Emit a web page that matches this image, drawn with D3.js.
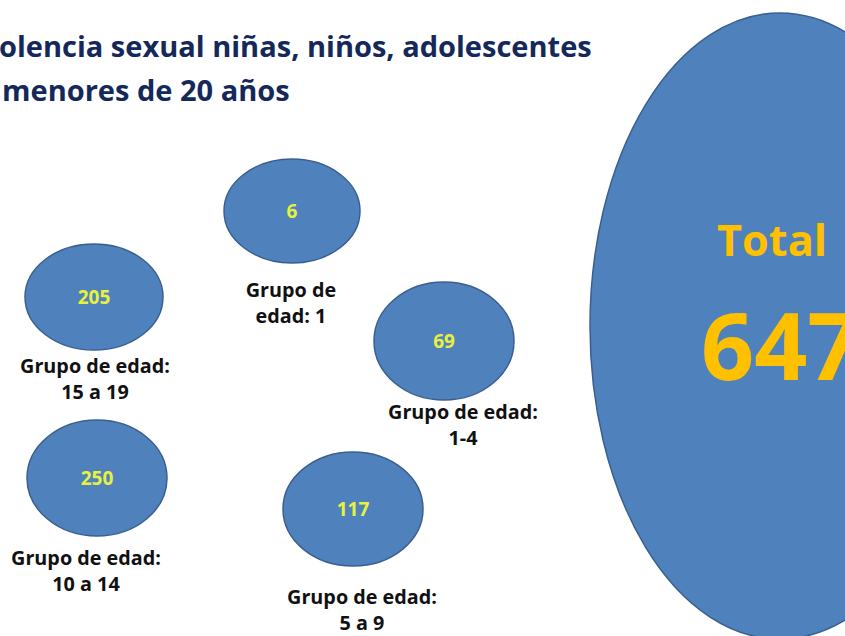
<!DOCTYPE html>
<html>
<head>
<meta charset="utf-8">
<script src="https://cdn.jsdelivr.net/npm/d3@7"></script>
<style>
  body { margin: 0; background: #fff; }
  svg { display: block; }
</style>
</head>
<body>
<script>
/*
Data
*/
var titleLines = ["olencia sexual niñas, niños, adolescentes", "menores de 20 años"];
var groupLabels = [["Grupo de", "edad: 1"], ["Grupo de edad:", "1-4"], ["Grupo de edad:", "5 a 9"],
                   ["Grupo de edad:", "10 a 14"], ["Grupo de edad:", "15 a 19"]];
var groupValues = [6, 69, 117, 250, 205];
var totalLabel = "Total";
var totalValue = 647;

/*
Layout (one entry per group, same order)
*/
var layout = [
  {cx: 292, cy: 211, rx: 68, ry: 52, lx: 291, ly: 297},
  {cx: 444, cy: 341, rx: 70, ry: 59, lx: 463, ly: 419},
  {cx: 353, cy: 509, rx: 70, ry: 57, lx: 362, ly: 604},
  {cx: 97,  cy: 478, rx: 70, ry: 58, lx: 86,  ly: 565},
  {cx: 94,  cy: 297, rx: 69, ry: 53, lx: 95,  ly: 373}
];

var width = 845,
    height = 636;

var svg = d3.select("body").append("svg")
    .attr("width", width)
    .attr("height", height);

var font = "'Open Sans', sans-serif";

// scale a text's font size so it spans the given width
function fit(sel, w) {
  var fs = +sel.attr("font-size");
  var len = sel.node().getComputedTextLength();
  var nfs = fs * w / len;
  sel.attr("font-size", nfs);
  return nfs;
}

// title
var title = svg.append("g")
  .selectAll("text")
  .data(titleLines)
  .enter().append("text")
    .attr("x", function(d, i) { return i == 0 ? -1 : 2; })
    .attr("y", function(d, i) { return 57 + i * 44; })
    .attr("font-family", font)
    .attr("font-weight", "bold")
    .attr("font-size", 26)
    .attr("fill", "#14295a")
    .text(function(d) { return d; });

var tfs = fit(d3.select(title.nodes()[0]), 593);
d3.select(title.nodes()[1]).attr("font-size", tfs);

// big total ellipse
svg.append("ellipse")
    .attr("cx", 780)
    .attr("cy", 326)
    .attr("rx", 190)
    .attr("ry", 313)
    .attr("fill", "#4f81bd")
    .attr("stroke", "#3a5f8f")
    .attr("stroke-width", 1.5);

var tot = svg.append("text")
    .attr("x", 772)
    .attr("y", 256)
    .attr("text-anchor", "middle")
    .attr("font-family", font)
    .attr("font-weight", "bold")
    .attr("font-size", 48)
    .attr("fill", "#ffc000")
    .text(totalLabel);
fit(tot, 110);

svg.append("text")
    .attr("x", 701)
    .attr("y", 380)
    .attr("font-family", font)
    .attr("font-weight", "bold")
    .attr("font-size", 93)
    .attr("fill", "#ffc000")
    .text(totalValue);

// group bubbles
var groups = svg.append("g")
  .selectAll("g")
  .data(groupValues)
  .enter().append("g");

groups.append("ellipse")
    .attr("cx", function(d, i) { return layout[i].cx; })
    .attr("cy", function(d, i) { return layout[i].cy; })
    .attr("rx", function(d, i) { return layout[i].rx; })
    .attr("ry", function(d, i) { return layout[i].ry; })
    .attr("fill", "#4f81bd")
    .attr("stroke", "#3a5f8f")
    .attr("stroke-width", 1.5);

groups.append("text")
    .attr("x", function(d, i) { return layout[i].cx; })
    .attr("y", function(d, i) { return layout[i].cy + 7; })
    .attr("text-anchor", "middle")
    .attr("font-family", font)
    .attr("font-weight", "bold")
    .attr("font-size", 19)
    .attr("fill", "#e8f23c")
    .text(function(d) { return d; });

groups.each(function(d, i) {
  d3.select(this).selectAll(".lab")
    .data(groupLabels[i])
    .enter().append("text")
      .attr("class", "lab")
      .attr("x", layout[i].lx)
      .attr("y", function(t, j) { return layout[i].ly + j * 26; })
      .attr("text-anchor", "middle")
      .attr("font-family", font)
      .attr("font-weight", "bold")
      .attr("font-size", 18)
      .attr("fill", "#111")
      .text(function(t) { return t; });
});

var lfs = fit(svg.selectAll(".lab").filter(function(t) { return t == "Grupo de edad:"; }).filter(function(t, k) { return k == 0; }), 150);
svg.selectAll(".lab").attr("font-size", lfs);
</script>
</body>
</html>
